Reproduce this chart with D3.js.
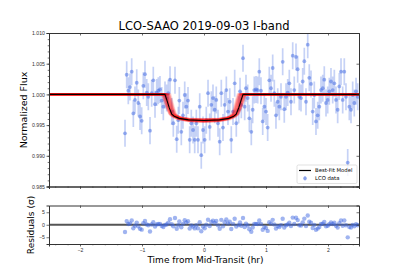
<!DOCTYPE html>
<html>
<head>
<meta charset="utf-8">
<script src="https://cdn.jsdelivr.net/npm/d3@7"></script>
<style>
  body { margin: 0; background: #fff; }
  svg { font-family: "DejaVu Sans", sans-serif; }
  .axis path, .axis line { stroke: #333; }
  .axis text { fill: #333; font-size: 5.2px; }
</style>
</head>
<body>
<div id="chart-area"></div>
<script>
// LCO data: time from mid-transit (hr) and normalized flux
const times = [-1.274,-1.247,-1.221,-1.194,-1.166,-1.140,-1.113,-1.085,-1.060,-1.032,-1.005,-0.979,-0.952,-0.924,-0.898,-0.871,-0.844,-0.818,-0.790,-0.763,-0.737,-0.710,-0.682,-0.656,-0.629,-0.602,-0.576,-0.548,-0.521,-0.495,-0.468,-0.440,-0.415,-0.398,-0.366,-0.339,-0.311,-0.285,-0.258,-0.231,-0.205,-0.177,-0.150,-0.124,-0.097,-0.069,-0.044,-0.016,0.011,0.037,0.065,0.092,0.118,0.145,0.173,0.198,0.226,0.253,0.279,0.306,0.334,0.360,0.387,0.415,0.440,0.468,0.495,0.521,0.560,0.581,0.602,0.629,0.656,0.677,0.705,0.731,0.763,0.785,0.811,0.839,0.866,0.892,0.919,0.947,0.973,1.000,1.027,1.053,1.081,1.108,1.134,1.161,1.189,1.215,1.242,1.269,1.295,1.323,1.350,1.376,1.403,1.431,1.456,1.484,1.511,1.537,1.565,1.592,1.618,1.645,1.673,1.698,1.726,1.753,1.779,1.806,1.834,1.860,1.887,1.915,1.940,1.968,1.995,2.021,2.048,2.076,2.102,2.129,2.156,2.182,2.210,2.237,2.263,2.290,2.318,2.344,2.371,2.398,2.424,2.452,2.479];
const flux = [0.99366,1.0032,1.0006,1.0012,1.0037,0.9969,0.9991,1.0019,0.9986,0.9964,0.9957,1.0014,1.0033,1.0003,0.9996,0.9941,1.0002,1.0023,0.9984,1.0003,1.0006,1.0008,0.9990,0.9980,0.9999,0.9994,1.0002,1.0024,0.9972,0.9953,1.0023,0.9927,0.9958,0.9990,0.9939,0.9966,0.9999,0.9980,0.9990,0.9926,0.9953,0.9942,0.9926,0.9953,0.9926,0.9980,0.9901,0.9942,0.9926,0.9958,1.0002,0.9947,0.9983,0.9994,0.9975,0.9991,0.9953,0.9923,1.0002,0.9946,0.9983,1.0007,0.9972,0.9988,0.9926,0.9972,1.0018,0.9953,0.9975,1.0005,0.9983,1.0059,0.9980,1.0010,0.9994,0.9961,0.9939,0.9975,1.0007,1.0008,1.0007,1.0037,1.0006,0.9956,0.9980,0.9972,0.9946,1.0023,1.0010,1.0043,1.0002,0.9966,0.9988,0.9980,0.9996,1.0053,0.9976,0.9996,1.0003,1.0018,0.9988,1.0063,1.0007,1.0061,1.0041,0.9996,0.9994,1.0021,1.0054,0.9988,1.0081,1.0027,1.0017,0.9972,0.9999,0.9956,0.9966,0.9980,1.0007,1.0010,1.0024,0.9986,0.9991,1.0005,1.0021,1.0007,1.0018,0.9991,0.9975,1.0013,1.0037,0.9991,1.0037,0.9996,0.9889,0.9980,0.9975,0.9999,0.9986,1.0005,0.9996];
const fluxErr = 0.0022;

// best-fit transit model, knots
const modelTimes = [-2.5,-0.63,-0.60,-0.56,-0.52,-0.48,-0.40,-0.25,0,0.25,0.40,0.48,0.52,0.56,0.60,0.63,2.5];
const modelFlux  = [1.0,1.0,0.9991,0.9978,0.9968,0.99645,0.9961,0.99585,0.99575,0.99585,0.9961,0.99645,0.9968,0.9978,0.9991,1.0,1.0];

// posterior draws (red): duration and depth scale factors
const drawDur   = [0.86,0.89,0.92,0.94,0.96,0.98,1.00,1.01,1.03,1.05,1.07,0.90,0.95,0.99,1.02,1.04,0.93,0.97,1.00,1.06,0.88,1.08,0.91,0.99,1.01];
const drawDepth = [1.03,0.98,1.01,0.97,1.02,0.99,1.04,0.96,1.00,1.05,0.97,1.02,0.98,1.03,0.99,1.01,0.96,1.04,1.00,0.98,1.02,0.97,1.05,0.95,1.01];

const xTicks = [-2,-1,0,1,2];
const fluxTicks = [0.985,0.990,0.995,1.000,1.005,1.010];
const resTicks = [-5,0,5];

const W=399, H=279;
const svg=d3.select('#chart-area').append('svg')
    .attr('width',W).attr('height',H);

const x=d3.scaleLinear().domain([-2.5,2.5]).range([49,359]);
const y=d3.scaleLinear().domain([0.985,1.010]).range([186.5,33]);
const yr=d3.scaleLinear().domain([-7.7,7.7]).range([244,205.5]);

const model=d3.scaleLinear().domain(modelTimes).range(modelFlux);

const data=times.map((t,i)=>({t:t,f:flux[i],r:(flux[i]-model(t))/fluxErr}));

// clip for main panel
svg.append('clipPath').attr('id','clipMain').append('rect')
    .attr('x',49).attr('y',33).attr('width',310).attr('height',153.5);
svg.append('clipPath').attr('id','clipRes').append('rect')
    .attr('x',49).attr('y',205.5).attr('width',310).attr('height',38.5);

const gMain=svg.append('g').attr('clip-path','url(#clipMain)');

// error bars
gMain.selectAll('line.err').data(data).enter().append('line')
    .attr('class','err')
    .attr('x1',d=>x(d.t)).attr('x2',d=>x(d.t))
    .attr('y1',d=>y(d.f-fluxErr)).attr('y2',d=>y(d.f+fluxErr))
    .attr('stroke','#4169e1').attr('stroke-opacity',0.3).attr('stroke-width',1.7);

gMain.selectAll('circle.pt').data(data).enter().append('circle')
    .attr('class','pt')
    .attr('cx',d=>x(d.t)).attr('cy',d=>y(d.f)).attr('r',1.9)
    .attr('fill','#4169e1').attr('fill-opacity',0.5);

// posterior draws
const line=d3.line().x(d=>x(d[0])).y(d=>y(d[1]));
drawDur.forEach((s,i)=>{
    const pts=modelTimes.map((t,j)=>{
        const tt=Math.abs(t)<2?t*s:t;
        return [tt,1-(1-modelFlux[j])*drawDepth[i]];
    });
    gMain.append('path').datum(pts)
        .attr('d',line)
        .attr('fill','none').attr('stroke','red')
        .attr('stroke-opacity',0.12).attr('stroke-width',2.2);
});

// best-fit model
gMain.append('path').datum(modelTimes.map((t,j)=>[t,modelFlux[j]]))
    .attr('d',line)
    .attr('fill','none').attr('stroke','black').attr('stroke-width',1.1);

// residual panel
const gRes=svg.append('g').attr('clip-path','url(#clipRes)');
gRes.append('line')
    .attr('x1',x(-2.5)).attr('x2',x(2.5)).attr('y1',yr(0)).attr('y2',yr(0))
    .attr('stroke','#555').attr('stroke-width',1.8);
gRes.selectAll('circle').data(data).enter().append('circle')
    .attr('cx',d=>x(d.t)).attr('cy',d=>yr(d.r)).attr('r',2.2)
    .attr('fill','#4169e1').attr('fill-opacity',0.5);

// axes - main
function minorRange(a,b,step){ return d3.range(Math.round(a/step),Math.round(b/step)+1).map(k=>+(k*step).toFixed(4)); }

svg.append('g').attr('class','axis').attr('transform','translate(49,0)')
    .call(d3.axisLeft(y).tickValues(fluxTicks).tickFormat(d3.format('.3f')).tickSize(2.5).tickPadding(1.5));
svg.append('g').attr('class','axis minor').attr('transform','translate(49,0)')
    .call(d3.axisLeft(y).tickValues(minorRange(0.985,1.010,0.001)).tickFormat('').tickSize(1.3));
svg.append('g').attr('class','axis').attr('transform','translate(359,0)')
    .call(d3.axisRight(y).tickValues(fluxTicks).tickFormat('').tickSize(-2.5));
svg.append('g').attr('class','axis').attr('transform','translate(0,33)')
    .call(d3.axisTop(x).tickValues(xTicks).tickFormat('').tickSize(-2.5));
svg.append('g').attr('class','axis').attr('transform','translate(0,186.5)')
    .call(d3.axisBottom(x).tickValues(xTicks).tickFormat('').tickSize(2.5));
svg.append('g').attr('class','axis minor').attr('transform','translate(0,186.5)')
    .call(d3.axisBottom(x).tickValues(minorRange(-2.4,2.4,0.2)).tickFormat('').tickSize(1.3));

// axes - residuals
svg.append('g').attr('class','axis').attr('transform','translate(49,0)')
    .call(d3.axisLeft(yr).tickValues(resTicks).tickFormat(d3.format('d')).tickSize(2.5).tickPadding(1.5));
svg.append('g').attr('class','axis').attr('transform','translate(359,0)')
    .call(d3.axisRight(yr).tickValues(resTicks).tickFormat('').tickSize(-2.5));
svg.append('g').attr('class','axis').attr('transform','translate(0,205.5)')
    .call(d3.axisTop(x).tickValues(xTicks).tickFormat('').tickSize(-2.5));
svg.append('g').attr('class','axis').attr('transform','translate(0,244)')
    .call(d3.axisBottom(x).tickValues(xTicks).tickFormat(d3.format('d')).tickSize(2.5).tickPadding(1.5));
svg.append('g').attr('class','axis minor').attr('transform','translate(0,244)')
    .call(d3.axisBottom(x).tickValues(minorRange(-2.4,2.4,0.2)).tickFormat('').tickSize(1.3));

svg.selectAll('.axis path.domain').attr('stroke','#333').attr('stroke-width',1);
svg.selectAll('.axis line').attr('stroke-width',0.7);

// titles and labels
svg.append('text')
    .attr('x',204).attr('y',29.5)
    .attr('text-anchor','middle').attr('font-size','11.5px').attr('fill','#000')
    .text('LCO-SAAO 2019-09-03 I-band');

svg.append('text')
    .attr('transform','translate(26.5,110) rotate(-90)')
    .attr('text-anchor','middle').attr('font-size','9.5px').attr('fill','#000')
    .text('Normalized Flux');

svg.append('text')
    .attr('transform','translate(33.5,225) rotate(-90)')
    .attr('text-anchor','middle').attr('font-size','9px').attr('fill','#000')
    .text('Residuals (σ)');

svg.append('text')
    .attr('x',205.5).attr('y',262.5)
    .attr('text-anchor','middle').attr('font-size','9px').attr('fill','#000')
    .text('Time from Mid-Transit (hr)');

// legend
const lg=svg.append('g');
lg.append('rect')
    .attr('x',297).attr('y',165).attr('width',60).attr('height',18.5).attr('rx',1.5)
    .attr('fill','#fff').attr('fill-opacity',0.8).attr('stroke','#ccc').attr('stroke-width',0.6);
lg.append('line')
    .attr('x1',299).attr('x2',311).attr('y1',170.5).attr('y2',170.5)
    .attr('stroke','black').attr('stroke-width',1.2);
lg.append('circle')
    .attr('cx',305).attr('cy',178.3).attr('r',1.9)
    .attr('fill','#4169e1').attr('fill-opacity',0.5);
lg.append('line')
    .attr('x1',305).attr('x2',305).attr('y1',176).attr('y2',180.6)
    .attr('stroke','#4169e1').attr('stroke-opacity',0.3).attr('stroke-width',1.6);
lg.append('text').attr('x',315).attr('y',172.3).attr('font-size','5.3px').attr('fill','#000').text('Best-Fit Model');
lg.append('text').attr('x',315).attr('y',180.3).attr('font-size','5.3px').attr('fill','#000').text('LCO data');
</script>
</body>
</html>
